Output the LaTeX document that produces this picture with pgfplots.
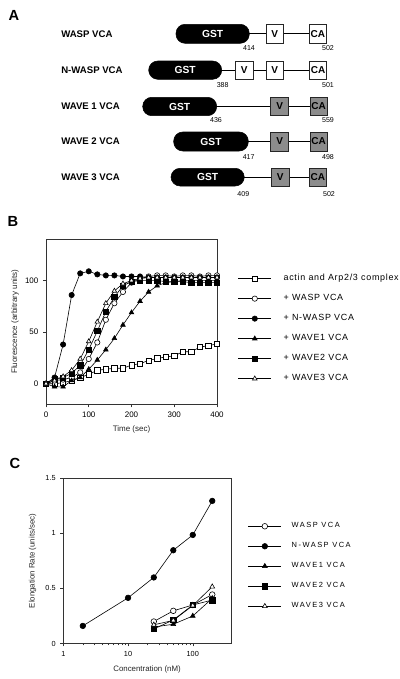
\documentclass[border=0pt]{standalone}
\usepackage{pgfplots}
\pgfplotsset{compat=1.18}
\usepackage{fontspec}
\setmainfont{Liberation Sans}
\newfontfamily\legB[LetterSpace=8]{Liberation Sans}
\newfontfamily\legC[LetterSpace=20]{Liberation Sans}

\newcommand{\gst}[4]{%
  \draw[fill=black, rounded corners=6.8pt] (#1,#3) rectangle (#2,#4);
  \node[white, font=\bfseries\fontsize{7.7}{8}\selectfont] at ({(#1+#2)/2},{(#3+#4)/2}) {GST};}
\newcommand{\dombox}[6]{%
  \draw[fill=#5, draw=black!85, line width=0.5pt] (#1,#3) rectangle (#2,#4);
  \node[font=\bfseries\fontsize{7.5}{8}\selectfont] at ({(#1+#2)/2},{(#3+#4)/2}) {#6};}
\newcommand{\rowlabel}[2]{\node[anchor=west, inner sep=0pt, font=\bfseries\fontsize{7.2}{8}\selectfont] at (61,#1) {#2};}
\newcommand{\resnum}[3]{\node[font=\fontsize{5.3}{6}\selectfont] at (#1,#2) {#3};}

\pgfplotsset{
  dataaxis/.style={
    scale only axis, anchor=south west, clip=false,
    axis line style={black!80, line width=0.5pt},
    tick align=outside, xtick pos=bottom, ytick pos=left,
    major tick length=2.2pt, minor tick length=1.4pt,
    tick style={black!80, line width=0.4pt},
    tick label style={font=\fontsize{6}{7}\selectfont},
    /pgf/number format/assume math mode=true,
    label style={font=\fontsize{6}{7}\selectfont, text=black!85},
    every axis plot/.append style={black, line width=0.45pt},
  },
}

\begin{document}
\begin{tikzpicture}
\useasboundingbox (0pt,0pt) rectangle (300pt,509.25pt);

% ---------------- Panel A : domain diagrams (pixel coordinates) -----------
\begin{axis}[at={(0pt,0pt)}, anchor=south west, scale only axis,
  width=300pt, height=509.25pt, xmin=0, xmax=400, ymin=0, ymax=679,
  y dir=reverse, hide axis, clip=false]
\node[font=\bfseries\fontsize{11}{12}\selectfont] at (14,15) {A};
\node[font=\bfseries\fontsize{11}{12}\selectfont] at (13,221.7) {B};
\node[font=\bfseries\fontsize{11}{12}\selectfont] at (15,463.3) {C};

% WASP VCA
\rowlabel{33.8}{WASP VCA}
\draw[line width=0.6pt] (240,33.8) -- (318,33.8);
\gst{176}{249.3}{24.3}{43.3}
\dombox{266}{283.3}{24.3}{43.3}{white}{V}
\dombox{309.3}{326.5}{24.3}{43.3}{white}{CA}
\resnum{249}{48.5}{414}
\resnum{328}{48.5}{502}

% N-WASP VCA
\rowlabel{70.2}{N-WASP VCA}
\draw[line width=0.6pt] (215,70.2) -- (318,70.2);
\gst{148.7}{221.7}{61}{79.3}
\dombox{235.3}{253.3}{61}{79.3}{white}{V}
\dombox{266}{283.3}{61}{79.3}{white}{V}
\dombox{309.3}{326.7}{61}{79.3}{white}{CA}
\resnum{222.7}{85}{388}
\resnum{328}{85}{501}

% WAVE 1 VCA
\rowlabel{106.5}{WAVE 1 VCA}
\draw[line width=0.6pt] (210,106.5) -- (318,106.5);
\gst{142.7}{216.7}{97.3}{115.7}
\dombox{270.7}{288.7}{97.3}{115.7}{black!45}{V}
\dombox{310}{327.3}{97.3}{115.7}{black!45}{CA}
\resnum{216}{120.5}{436}
\resnum{328}{120.5}{559}

% WAVE 2 VCA
\rowlabel{141.5}{WAVE 2 VCA}
\draw[line width=0.6pt] (240,141.5) -- (318,141.5);
\gst{173.7}{248.3}{132}{151}
\dombox{270.7}{288.7}{132}{151}{black!45}{V}
\dombox{310}{327.3}{132}{151}{black!45}{CA}
\resnum{248.7}{156.7}{417}
\resnum{328}{156.7}{498}

% WAVE 3 VCA
\rowlabel{177.2}{WAVE 3 VCA}
\draw[line width=0.6pt] (238,177.2) -- (318,177.2);
\gst{171}{244.3}{168.3}{186}
\dombox{271.3}{289.3}{168.3}{186}{black!45}{V}
\dombox{309}{326.7}{168.3}{186}{black!45}{CA}
\resnum{243.3}{193.7}{409}
\resnum{329}{193.7}{502}
\end{axis}

% ---------------- Panel B -------------------------------------------------
\begin{axis}[dataaxis, at={(34.5pt,206pt)}, width=128.25pt, height=123.75pt,
  xmin=0, xmax=400, ymin=-20, ymax=140,
  xtick={0,100,200,300,400}, ytick={0,50,100},
  xlabel={Time (sec)}, ylabel={Fluorescence (arbitrary units)},
  xlabel style={at={(axis description cs:0.5,-0.152)}, anchor=center},
  ylabel style={at={(axis description cs:-0.181,0.5)}, anchor=center},
  mark size=2pt,
  legend style={at={(axis description cs:1.121,0.824)}, anchor=north west,
    draw=none, fill=none, inner sep=0pt, column sep=9pt, row sep=0pt,
    font=\legB\fontsize{6.7}{7}\selectfont,
    nodes={inner sep=0pt, minimum height=15pt}},
  legend cell align=left,
  legend image code/.code={\draw[mark repeat=2,mark phase=2,#1]
     plot coordinates {(0pt,0pt) (12.4pt,0pt) (24.8pt,0pt)};},
]
\addplot[mark=square*, mark options={fill=white}] coordinates {
(0,0)(20,0)(40,1)(60,3)(80,6)(100,9)(120,13)(140,14)(160,15)(180,15)(200,18)
(220,19.5)(240,22.5)(260,24.5)(280,26)(300,27)(320,31)(340,31)(360,35.5)(380,37)(400,38.5)};
\addlegendentry{actin and Arp2/3 complex}
\addplot[mark=*, mark options={fill=white}] coordinates {
(0,0)(20,3)(40,4)(60,6)(80,11)(100,24)(120,40)(140,62)(160,78)(180,89)(200,98)
(220,102)(240,104)(260,105)(280,105)(300,104)(320,105)(340,105)(360,104)(380,105)(400,105)};
\addlegendentry{+ WASP VCA}
\addplot[mark=*, mark options={fill=black}] coordinates {
(0,0)(20,6)(40,38)(60,86)(80,107)(100,109)(120,106)(140,105)(160,105)(180,104)(200,104)
(220,104)(240,103)(260,103)(280,103)(300,103)(320,103)(340,103)(360,103)(380,103)(400,103)};
\addlegendentry{+ N-WASP VCA}
\addplot[mark=triangle*, mark options={fill=black}] coordinates {
(0,0)(20,-3)(40,-3)(60,3)(80,6)(100,14)(120,23)(140,33)(160,44)(180,57)(200,69)
(220,80)(240,89)(260,95)(280,98)(300,99)(320,100)(340,100)(360,100)(380,100)(400,100)};
\addlegendentry{+ WAVE1 VCA}
\addplot[mark=square*, mark options={fill=black}] coordinates {
(0,0)(20,5)(40,6)(60,10)(80,18)(100,33)(120,51)(140,70)(160,84)(180,95)(200,99)
(220,100)(240,100)(260,100)(280,99)(300,99)(320,99)(340,98)(360,98)(380,98)(400,98)};
\addlegendentry{+ WAVE2 VCA}
\addplot[mark=triangle*, mark options={fill=white}] coordinates {
(0,0)(20,3)(40,7)(60,13)(80,24)(100,41)(120,60)(140,78)(160,90)(180,97)(200,100)
(220,102)(240,103)(260,103)(280,103)(300,103)(320,103)(340,103)(360,103)(380,103)(400,103)};
\addlegendentry{+ WAVE3 VCA}
\end{axis}

% ---------------- Panel C -------------------------------------------------
\begin{axis}[dataaxis, at={(47.5pt,26.6pt)}, width=126.3pt, height=123.9pt,
  xmode=log, xmin=1, xmax=400, ymin=0, ymax=1.5,
  log ticks with fixed point,
  xtick={1,10,100}, ytick={0,0.5,1,1.5},
  yticklabels={0,0.5,1,1.5},
  tick label style={font=\fontsize{5.5}{6}\selectfont},
  label style={font=\fontsize{5.9}{7}\selectfont},
  xlabel={Concentration (nM)}, ylabel={Elongation Rate (units/sec)},
  xlabel style={at={(axis description cs:0.497,-0.156)}, anchor=center},
  ylabel style={at={(axis description cs:-0.182,0.5)}, anchor=center},
  mark size=2.1pt,
  legend style={at={(axis description cs:1.095,0.772)}, anchor=north west,
    draw=none, fill=none, inner sep=0pt, column sep=7.5pt, row sep=0pt,
    font=\legC\fontsize{5.6}{6}\selectfont,
    nodes={inner sep=0pt, minimum height=15pt}},
  legend cell align=left,
  legend image code/.code={\draw[mark repeat=2,mark phase=2,#1]
     plot coordinates {(0pt,0pt) (12.4pt,0pt) (24.8pt,0pt)};},
]
\addplot[mark=*, mark options={fill=white}] coordinates {
(25,0.20)(50,0.297)(100,0.35)(200,0.445)};
\addlegendentry{WASP VCA}
\addplot[mark=*, mark options={fill=black}] coordinates {
(2,0.16)(10,0.415)(25,0.60)(50,0.847)(100,0.986)(200,1.295)};
\addlegendentry{N-WASP VCA}
\addplot[mark=triangle*, mark options={fill=black}] coordinates {
(25,0.15)(50,0.175)(100,0.25)(200,0.41)};
\addlegendentry{WAVE1 VCA}
\addplot[mark=square*, mark options={fill=black}] coordinates {
(25,0.132)(50,0.214)(100,0.35)(200,0.395)};
\addlegendentry{WAVE2 VCA}
\addplot[mark=triangle*, mark options={fill=white}] coordinates {
(25,0.17)(50,0.21)(100,0.345)(200,0.516)};
\addlegendentry{WAVE3 VCA}
\end{axis}
\end{tikzpicture}
\end{document}
